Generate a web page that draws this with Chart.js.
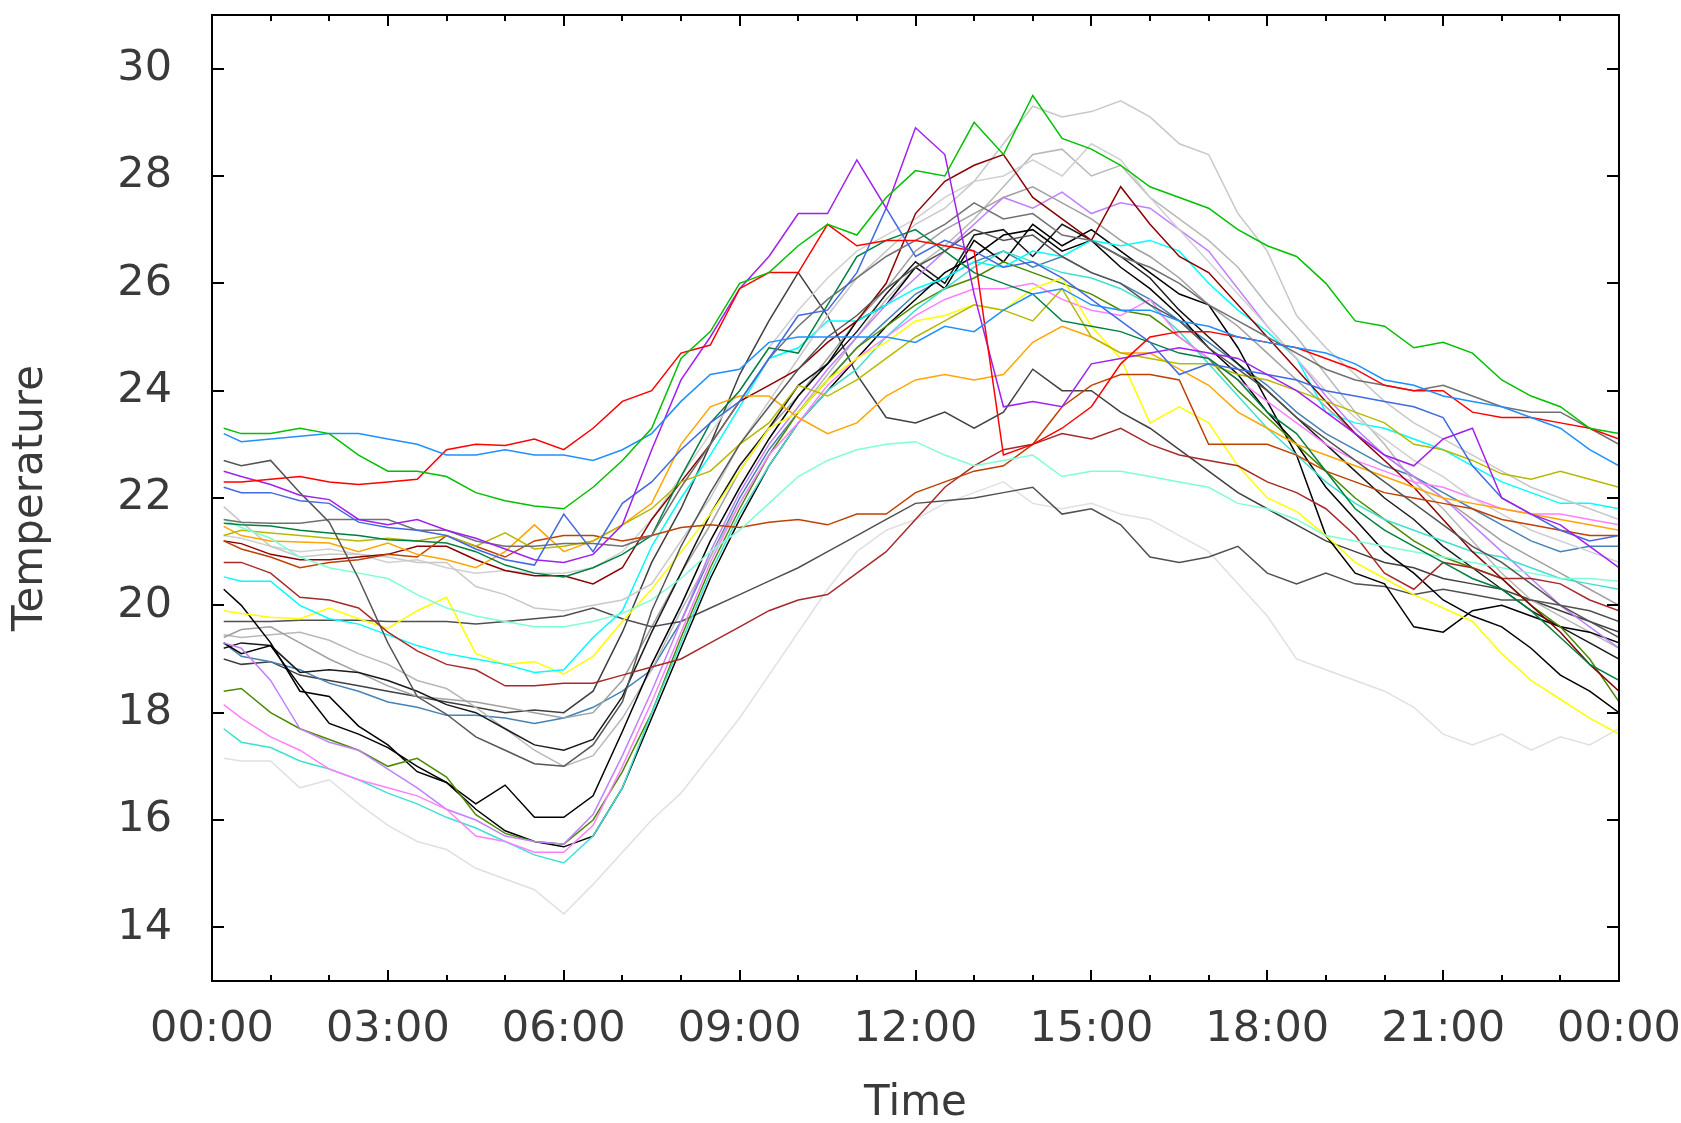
<!DOCTYPE html>
<html>
<head>
<meta charset="utf-8">
<title>Temperature</title>
<script src="https://cdn.jsdelivr.net/npm/chart.js@4.4.0/dist/chart.umd.min.js"></script>
<style>
  html, body { margin: 0; padding: 0; background: #fff; }
  #wrap { width: 1681px; height: 1123px; }
</style>
</head>
<body>
<div id="wrap"><canvas id="temp-chart" width="1681" height="1123"></canvas></div>
<script>
// sample times, hours since midnight
const times = [0.2, 0.5, 1, 1.5, 2, 2.5, 3, 3.5, 4, 4.5, 5, 5.5, 6,
  6.5, 7, 7.5, 8, 8.5, 9, 9.5, 10, 10.5, 11, 11.5, 12,
  12.5, 13, 13.5, 14, 14.5, 15, 15.5, 16, 16.5, 17, 17.5, 18,
  18.5, 19, 19.5, 20, 20.5, 21, 21.5, 22, 22.5, 23, 23.5, 24];

const xTickHours = [0, 3, 6, 9, 12, 15, 18, 21, 24];
const xTickLabels = ['00:00', '03:00', '06:00', '09:00', '12:00', '15:00', '18:00', '21:00', '00:00'];
const minorHours = [0, 1, 2, 3, 4, 5, 6, 7, 8, 9, 10, 11, 12, 13, 14, 15, 16, 17, 18, 19, 20, 21, 22, 23, 24];
const yTicks = [14, 16, 18, 20, 22, 24, 26, 28, 30];

// one row per sensor
const greenHigh = [23.3, 23.2, 23.2, 23.3, 23.2, 22.8, 22.5, 22.5, 22.4, 22.1, 21.95, 21.85, 21.8,
  22.2, 22.7, 23.3, 24.6, 25.1, 26.0, 26.2, 26.7, 27.1, 26.9, 27.6, 28.1,
  28.0, 29.0, 28.4, 29.5, 28.7, 28.5, 28.2, 27.8, 27.6, 27.4, 27.0, 26.7,
  26.5, 26.0, 25.3, 25.2, 24.8, 24.9, 24.7, 24.2, 23.9, 23.7, 23.3, 23.2];
const blueHigh = [23.2, 23.05, 23.1, 23.15, 23.2, 23.2, 23.1, 23.0, 22.8, 22.8, 22.9, 22.8, 22.8,
  22.7, 22.9, 23.2, 23.8, 24.3, 24.4, 24.9, 25.0, 25.0, 25.0, 25.0, 24.9,
  25.2, 25.1, 25.5, 25.8, 25.9, 25.6, 25.5, 25.5, 25.3, 25.2, 25.0, 24.9,
  24.8, 24.7, 24.5, 24.2, 24.1, 23.9, 23.8, 23.7, 23.5, 23.3, 22.9, 22.6];
const red = [22.3, 22.3, 22.35, 22.4, 22.3, 22.25, 22.3, 22.35, 22.9, 23.0, 22.98, 23.1, 22.9,
  23.3, 23.8, 24.0, 24.7, 24.85, 25.9, 26.2, 26.2, 27.1, 26.7, 26.8, 26.8,
  26.7, 26.6, 22.8, 23.0, 23.3, 23.7, 24.5, 25.0, 25.1, 25.1, 25.0, 24.9,
  24.8, 24.6, 24.4, 24.1, 24.0, 24.0, 23.6, 23.5, 23.5, 23.4, 23.3, 23.1];
const purple = [22.5, 22.4, 22.25, 22.05, 21.97, 21.6, 21.5, 21.6, 21.4, 21.25, 21.05, 20.85, 20.8,
  20.95, 21.5, 22.9, 24.2, 25.0, 25.9, 26.5, 27.3, 27.3, 28.3, 27.4, 28.9,
  28.4, 25.8, 23.7, 23.8, 23.7, 24.5, 24.6, 24.7, 24.8, 24.7, 24.6, 24.3,
  24.0, 23.6, 23.2, 22.8, 22.6, 23.1, 23.3, 22.0, 21.7, 21.5, 21.1, 20.7];
const royalBlue = [22.2, 22.1, 22.1, 21.95, 21.9, 21.55, 21.45, 21.4, 21.3, 21.05, 20.85, 20.75, 21.7,
  21.0, 21.9, 22.3, 22.9, 23.4, 23.8, 24.6, 25.4, 25.5, 26.2, 27.4, 26.5,
  26.8, 26.6, 26.3, 26.4, 26.1, 25.7, 25.3, 24.9, 24.3, 24.5, 24.4, 24.3,
  24.2, 24.0, 23.9, 23.8, 23.7, 23.5, 22.6, 22.0, 21.7, 21.4, 21.2, 21.3];
const grayFall = [22.7, 22.6, 22.7, 22.1, 21.55, 20.5, 19.3, 18.3, 17.97, 17.55, 17.3, 17.05, 17.0,
  17.4, 18.2, 19.9, 21.1, 22.1, 23.0, 23.7, 24.4, 25.0, 25.4, 25.9, 26.3,
  26.6, 27.0, 26.8, 26.9, 26.5, 26.2, 26.0, 25.6, 25.3, 24.8, 24.4, 24.0,
  23.5, 23.1, 22.7, 22.3, 21.9, 21.5, 21.1, 20.8, 20.4, 20.0, 19.7, 19.4];
const grayFlat = [21.6, 21.55, 21.53, 21.53, 21.6, 21.6, 21.6, 21.4, 21.4, 21.2, 21.1, 21.1, 21.15,
  21.15, 21.1, 21.3, 22.2, 23.0, 23.8, 24.6, 25.2, 25.7, 26.1, 26.5, 26.8,
  27.1, 27.5, 27.2, 27.3, 26.9, 26.8, 26.5, 26.3, 26.0, 25.6, 25.3, 25.0,
  24.7, 24.4, 24.2, 24.1, 24.0, 24.1, 23.9, 23.7, 23.6, 23.6, 23.3, 23.0];
const darkGreen = [21.53, 21.5, 21.48, 21.4, 21.35, 21.3, 21.22, 21.2, 21.16, 21.0, 20.75, 20.6, 20.53,
  20.7, 20.95, 21.3, 22.4, 23.4, 24.0, 24.8, 24.7, 25.6, 26.5, 26.8, 27.0,
  26.6, 26.2, 26.0, 25.8, 25.3, 25.2, 25.1, 24.9, 24.7, 24.6, 24.2, 23.6,
  23.2, 22.5, 21.8, 21.4, 21.1, 20.8, 20.5, 20.3, 19.9, 19.4, 18.9, 18.6];
const aquamarine = [21.6, 21.45, 21.25, 20.9, 20.7, 20.6, 20.5, 20.2, 19.95, 19.8, 19.7, 19.6, 19.6,
  19.7, 19.85, 20.1, 20.5, 21.0, 21.4, 21.9, 22.4, 22.7, 22.9, 23.0, 23.05,
  22.8, 22.6, 22.7, 22.8, 22.4, 22.5, 22.5, 22.4, 22.3, 22.2, 21.9, 21.8,
  21.6, 21.3, 21.2, 21.1, 21.0, 20.9, 20.8, 20.7, 20.6, 20.5, 20.5, 20.45];
const olive = [21.3, 21.4, 21.35, 21.3, 21.25, 21.2, 21.25, 21.2, 21.3, 21.1, 21.35, 21.05, 21.1,
  21.2, 21.5, 21.8, 22.3, 22.5, 23.0, 23.4, 24.1, 23.9, 24.2, 24.6, 25.0,
  25.3, 25.6, 25.5, 25.3, 25.9, 25.0, 24.7, 24.6, 24.5, 24.5, 24.3, 24.2,
  24.0, 23.8, 23.6, 23.4, 23.0, 22.9, 22.7, 22.45, 22.35, 22.5, 22.35, 22.2];
const orange = [21.47, 21.3, 21.2, 21.18, 21.16, 21.0, 21.16, 20.95, 20.85, 20.7, 21.0, 21.5, 21.0,
  21.2, 21.5, 21.9, 23.0, 23.7, 23.9, 23.9, 23.5, 23.2, 23.4, 23.9, 24.2,
  24.3, 24.2, 24.3, 24.9, 25.2, 25.0, 24.7, 24.7, 24.4, 24.1, 23.6, 23.3,
  23.0, 22.8, 22.6, 22.4, 22.2, 22.0, 21.9, 21.8, 21.7, 21.6, 21.5, 21.4];
const sienna = [21.2, 21.05, 20.9, 20.7, 20.8, 20.85, 20.95, 20.9, 21.3, 21.1, 20.9, 21.2, 21.3,
  21.3, 21.2, 21.3, 21.45, 21.5, 21.45, 21.55, 21.6, 21.5, 21.7, 21.7, 22.1,
  22.3, 22.5, 22.6, 23.0, 23.7, 24.1, 24.3, 24.3, 24.2, 23.0, 23.0, 23.0,
  22.8, 22.5, 22.3, 22.1, 22.0, 21.9, 21.8, 21.6, 21.5, 21.4, 21.3, 21.3];
const darkRed = [21.2, 21.15, 20.95, 20.85, 20.85, 20.9, 20.95, 21.1, 21.1, 20.85, 20.65, 20.55, 20.55,
  20.4, 20.7, 21.6, 22.3, 23.0, 23.8, 24.1, 24.4, 24.9, 25.3, 26.0, 27.3,
  27.9, 28.2, 28.4, 27.6, 27.2, 26.8, 27.8, 27.1, 26.5, 26.2, 25.6, 25.0,
  24.4, 23.8, 23.2, 22.7, 22.2, 21.6, 21.0, 20.5, 20.0, 19.5, 18.9, 18.4];
const brown = [20.8, 20.8, 20.6, 20.15, 20.1, 19.95, 19.5, 19.15, 18.9, 18.8, 18.5, 18.5, 18.55,
  18.55, 18.7, 18.85, 19.0, 19.3, 19.6, 19.9, 20.1, 20.2, 20.6, 21.0, 21.6,
  22.2, 22.6, 22.9, 23.0, 23.2, 23.1, 23.3, 23.0, 22.8, 22.7, 22.6, 22.3,
  22.1, 21.8, 21.3, 20.6, 20.3, 20.8, 20.7, 20.5, 20.5, 20.4, 20.1, 19.9];
const silverTop = [21.84, 21.55, 21.1, 20.9, 20.95, 20.95, 20.9, 20.8, 20.8, 20.35, 20.2, 19.95, 19.9,
  20.0, 20.1, 20.4, 21.2, 22.0, 23.0, 23.8, 24.6, 25.4, 26.1, 26.6, 27.1,
  27.4, 27.9, 28.6, 29.3, 29.1, 29.2, 29.4, 29.1, 28.6, 28.4, 27.3, 26.6,
  25.4, 24.8, 24.3, 23.8, 23.4, 23.1, 22.8, 22.5, 22.2, 22.0, 21.8, 21.6];
const silverHigh = [21.3, 21.25, 21.1, 21.0, 21.05, 20.95, 20.8, 20.85, 20.7, 20.6, 20.65, 20.6, 20.6,
  20.7, 21.0, 21.6, 22.4, 23.2, 24.0, 24.8, 25.5, 26.1, 26.6, 26.9, 27.2,
  27.6, 27.9, 28.0, 28.3, 28.0, 28.6, 28.3, 27.6, 27.0, 26.4, 25.8, 25.2,
  24.6, 24.0, 23.5, 23.1, 22.7, 22.4, 22.0, 21.7, 21.4, 21.2, 21.0, 20.8];
const cyan = [20.53, 20.45, 20.45, 20.0, 19.75, 19.65, 19.45, 19.25, 19.1, 19.0, 18.9, 18.75, 18.8,
  19.4, 19.9, 21.1, 22.0, 22.8, 23.7, 24.6, 24.8, 25.3, 25.3, 25.6, 25.9,
  26.1, 26.4, 26.3, 26.6, 26.5, 26.8, 26.7, 26.8, 26.6, 26.0, 25.5, 25.1,
  24.6, 23.6, 23.4, 23.3, 23.1, 22.9, 22.6, 22.3, 22.1, 21.9, 21.9, 21.8];
const yellow = [19.9, 19.85, 19.78, 19.75, 19.95, 19.75, 19.57, 19.9, 20.15, 19.1, 18.9, 18.95, 18.72,
  19.05, 19.7, 20.3, 21.0, 21.7, 22.5, 23.3, 23.6, 24.2, 24.6, 24.9, 25.3,
  25.4, 25.6, 25.5, 25.9, 26.1, 25.2, 24.6, 23.4, 23.7, 23.4, 22.6, 22.0,
  21.75, 21.3, 20.8, 20.5, 20.2, 19.95, 19.7, 19.1, 18.6, 18.25, 17.9, 17.6];
const violet = [18.15, 17.9, 17.55, 17.3, 16.95, 16.75, 16.6, 16.45, 16.2, 15.7, 15.6, 15.4, 15.4,
  15.9, 17.0, 18.2, 19.5, 20.8, 21.9, 22.8, 23.4, 24.1, 24.6, 25.0, 25.4,
  25.7, 25.9, 25.9, 26.0, 25.7, 25.5, 25.4, 25.7, 25.0, 24.6, 24.2, 23.8,
  23.4, 23.0, 22.7, 22.5, 22.3, 22.2, 22.0, 21.8, 21.7, 21.7, 21.6, 21.5];
const turquoise = [17.7, 17.45, 17.35, 17.1, 16.95, 16.75, 16.5, 16.3, 16.05, 15.85, 15.6, 15.35, 15.2,
  15.7, 16.6, 18.0, 19.3, 20.6, 21.7, 22.6, 23.4, 24.0, 24.4, 25.0, 25.5,
  25.9, 26.3, 26.6, 26.4, 26.2, 26.1, 25.9, 25.6, 25.1, 24.5, 23.9, 23.3,
  22.8, 22.3, 21.9, 21.6, 21.4, 21.2, 21.0, 20.9, 20.7, 20.5, 20.4, 20.3];
const lavender = [19.3, 19.2, 18.6, 17.7, 17.45, 17.3, 16.95, 16.6, 16.2, 16.0, 15.7, 15.6, 15.55,
  16.1, 17.2, 18.4, 19.7, 21.0, 22.1, 23.0, 23.7, 24.4, 25.0, 25.6, 26.1,
  26.6, 27.1, 27.6, 27.4, 27.7, 27.3, 27.5, 27.4, 27.0, 26.6, 25.9, 25.2,
  24.6, 23.9, 23.3, 22.8, 22.4, 22.0, 21.5, 21.0, 20.5, 20.0, 19.6, 19.2];
const oliveDrab = [18.4, 18.45, 18.0, 17.7, 17.5, 17.3, 17.0, 17.15, 16.8, 16.1, 15.75, 15.6, 15.55,
  16.0, 16.9, 18.0, 19.4, 20.7, 21.8, 22.8, 23.6, 24.2, 24.8, 25.2, 25.6,
  25.9, 26.1, 26.4, 26.2, 26.0, 25.8, 25.5, 25.4, 25.0, 24.6, 24.0, 23.5,
  23.0, 22.5, 22.0, 21.6, 21.2, 20.9, 20.7, 20.5, 20.0, 19.6, 19.0, 18.2];
const blackA = [20.3, 20.0, 19.3, 18.4, 18.3, 17.75, 17.4, 16.9, 16.7, 16.3, 16.65, 16.05, 16.05,
  16.45, 17.65, 18.9, 20.0, 21.2, 22.2, 23.1, 23.9, 24.5, 25.3, 25.6, 26.3,
  25.9, 26.8, 26.4, 27.1, 26.7, 27.0, 26.6, 26.2, 25.8, 25.6, 24.8, 23.8,
  22.8, 21.3, 20.6, 20.4, 19.6, 19.5, 19.9, 20.0, 19.8, 19.6, 19.5, 19.3];
const blackB = [19.3, 19.1, 19.25, 18.5, 17.8, 17.6, 17.35, 17.0, 16.7, 16.2, 15.8, 15.6, 15.5,
  15.7, 16.6, 17.9, 19.2, 20.5, 21.6, 22.6, 23.4, 24.0, 24.6, 25.2, 25.7,
  26.2, 26.5, 26.9, 27.0, 26.6, 26.8, 26.3, 25.9, 25.4, 24.8, 24.3, 23.6,
  23.0, 22.2, 21.6, 21.0, 20.6, 20.1, 19.8, 19.6, 19.2, 18.7, 18.4, 18.0];
const blackC = [19.2, 19.3, 19.25, 18.75, 18.8, 18.75, 18.6, 18.4, 18.15, 18.0, 17.7, 17.4, 17.3,
  17.5, 18.3, 19.5, 20.6, 21.7, 22.6, 23.3, 24.1, 24.5, 25.1, 25.8, 26.4,
  26.0, 26.9, 27.0, 26.5, 27.1, 26.8, 26.5, 26.1, 25.5, 25.0, 24.5, 24.0,
  23.5, 23.0, 22.5, 22.0, 21.6, 21.1, 20.7, 20.3, 19.9, 19.6, 19.3, 19.0];
const grayLow = [19.7, 19.7, 19.7, 19.72, 19.72, 19.72, 19.7, 19.7, 19.7, 19.65, 19.7, 19.75, 19.8,
  19.95, 19.75, 19.6, 19.7, 19.95, 20.2, 20.45, 20.7, 21.0, 21.3, 21.6, 21.9,
  21.95, 22.0, 22.1, 22.2, 21.7, 21.8, 21.5, 20.9, 20.8, 20.9, 21.1, 20.6,
  20.4, 20.6, 20.4, 20.35, 20.2, 20.3, 20.2, 20.1, 20.1, 20.0, 19.9, 19.7];
const grayMid = [19.4, 19.55, 19.6, 19.3, 19.0, 18.75, 18.5, 18.3, 18.25, 18.2, 18.1, 18.0, 17.9,
  18.0, 18.6, 19.6, 20.6, 21.5, 22.5, 23.3, 23.9, 24.6, 25.3, 25.9, 26.6,
  27.0, 27.3, 27.6, 27.8, 27.5, 27.2, 26.8, 26.5, 26.1, 25.6, 25.2, 24.7,
  24.2, 23.7, 23.2, 22.8, 22.4, 22.0, 21.6, 21.2, 20.9, 20.6, 20.3, 20.0];
const silverMid = [19.45, 19.4, 19.45, 19.5, 19.35, 19.1, 18.9, 18.6, 18.45, 18.1, 17.7, 17.3, 17.0,
  17.2, 17.9, 18.8, 19.9, 20.9, 21.9, 22.8, 23.6, 24.3, 25.0, 25.7, 26.3,
  26.7, 27.2, 27.8, 28.4, 28.5, 28.0, 28.2, 27.6, 27.2, 26.8, 26.3, 25.6,
  25.0, 24.3, 23.6, 23.0, 22.3, 21.8, 21.2, 20.6, 20.1, 19.8, 19.5, 19.2];
const steelBlue = [19.3, 19.05, 18.95, 18.8, 18.55, 18.4, 18.2, 18.1, 17.95, 17.95, 17.9, 17.8, 17.9,
  18.1, 18.4, 18.8, 19.7, 20.9, 22.0, 22.9, 23.6, 24.2, 24.8, 25.3, 25.8,
  26.1, 26.4, 26.6, 26.3, 26.5, 26.2, 26.0, 25.7, 25.3, 24.9, 24.5, 24.1,
  23.6, 23.2, 22.9, 22.6, 22.4, 22.1, 21.8, 21.5, 21.2, 21.0, 21.1, 21.1];
const paleGray = [17.15, 17.1, 17.1, 16.6, 16.75, 16.3, 15.9, 15.6, 15.45, 15.1, 14.9, 14.7, 14.25,
  14.8, 15.4, 16.0, 16.5, 17.2, 17.9, 18.7, 19.5, 20.3, 21.0, 21.4, 21.6,
  21.9, 22.1, 22.3, 21.9, 21.8, 21.9, 21.7, 21.6, 21.3, 21.0, 20.4, 19.8,
  19.0, 18.8, 18.6, 18.4, 18.1, 17.6, 17.4, 17.6, 17.3, 17.55, 17.4, 17.7];
const grayPeak = [19.0, 18.9, 18.95, 18.7, 18.6, 18.5, 18.4, 18.3, 18.2, 18.1, 18.0, 18.05, 18.0,
  18.4, 19.5, 20.8, 21.8, 23.0, 24.3, 25.3, 26.2, 25.4, 24.3, 23.5, 23.4,
  23.6, 23.3, 23.6, 24.4, 24.0, 24.0, 23.6, 23.3, 22.9, 22.5, 22.1, 21.8,
  21.5, 21.2, 21.0, 20.8, 20.7, 20.5, 20.4, 20.3, 20.1, 19.9, 19.7, 19.5];

const sensors = [
  { values: greenHigh, color: '#00c000' },
  { values: blueHigh, color: '#1e90ff' },
  { values: red, color: '#ff0000' },
  { values: purple, color: '#a020f0' },
  { values: royalBlue, color: '#4169e1' },
  { values: grayFall, color: '#555555' },
  { values: grayFlat, color: '#707070' },
  { values: darkGreen, color: '#008040' },
  { values: aquamarine, color: '#7fffd4' },
  { values: olive, color: '#b8b800' },
  { values: orange, color: '#ffa500' },
  { values: sienna, color: '#c04000' },
  { values: darkRed, color: '#8b0000' },
  { values: brown, color: '#a52a2a' },
  { values: silverTop, color: '#c8c8c8' },
  { values: silverHigh, color: '#d0d0d0' },
  { values: cyan, color: '#00ffff' },
  { values: yellow, color: '#ffff00' },
  { values: violet, color: '#ff80ff' },
  { values: turquoise, color: '#40e0d0' },
  { values: lavender, color: '#c080ff' },
  { values: oliveDrab, color: '#4a8a00' },
  { values: blackA, color: '#000000' },
  { values: blackB, color: '#000000' },
  { values: blackC, color: '#1a1a1a' },
  { values: grayLow, color: '#505050' },
  { values: grayMid, color: '#a0a0a0' },
  { values: silverMid, color: '#b8b8b8' },
  { values: steelBlue, color: '#4682b4' },
  { values: paleGray, color: '#e0e0e0' },
  { values: grayPeak, color: '#404040' }
];

// frame with inward ticks on all four sides
const frameTicks = {
  id: 'frameTicks',
  afterDatasetsDraw(chart) {
    const { ctx, chartArea: a, scales: { x, y } } = chart;
    ctx.save();
    ctx.strokeStyle = '#000';
    ctx.lineWidth = 2;
    ctx.beginPath();
    minorHours.forEach(h => {
      const px = Math.round(x.getPixelForValue(h));
      const len = h % 3 === 0 ? 11 : 6;
      ctx.moveTo(px, a.bottom); ctx.lineTo(px, a.bottom - len);
      ctx.moveTo(px, a.top); ctx.lineTo(px, a.top + len);
    });
    yTicks.forEach(v => {
      const py = Math.round(y.getPixelForValue(v));
      ctx.moveTo(a.left, py); ctx.lineTo(a.left + 12, py);
      ctx.moveTo(a.right, py); ctx.lineTo(a.right - 12, py);
    });
    ctx.stroke();
    ctx.strokeRect(a.left, a.top, a.right - a.left, a.bottom - a.top);
    ctx.restore();
  }
};

const textColor = '#3a3a3a';
const tickFont = { family: 'DejaVu Sans', size: 43 };
const titleFont = { family: 'DejaVu Sans', size: 42, lineHeight: 0.9 };

new Chart(document.getElementById('temp-chart'), {
  type: 'line',
  data: {
    datasets: sensors.map(s => ({
      data: s.values.map((v, i) => ({ x: times[i], y: v })),
      borderColor: s.color,
      borderWidth: 1.5,
      pointRadius: 0,
      tension: 0,
      fill: false
    }))
  },
  options: {
    responsive: false,
    devicePixelRatio: 1,
    animation: false,
    events: [],
    layout: { padding: { left: 0, right: 62, top: 15, bottom: 0 } },
    plugins: { legend: { display: false }, tooltip: { enabled: false } },
    scales: {
      x: {
        type: 'linear',
        min: 0,
        max: 24,
        grid: { display: false, drawTicks: false },
        border: { display: false },
        afterBuildTicks: scale => { scale.ticks = xTickHours.map(v => ({ value: v })); },
        afterFit: scale => { scale.height = 142; scale.paddingLeft = 0; scale.paddingRight = 0; },
        ticks: {
          autoSkip: false,
          maxRotation: 0,
          padding: 23,
          color: textColor,
          font: tickFont,
          callback: v => xTickLabels[xTickHours.indexOf(v)]
        },
        title: { display: true, text: 'Time', color: textColor, font: titleFont, padding: { top: 0, bottom: 0 } }
      },
      y: {
        type: 'linear',
        min: 13,
        max: 31,
        grid: { display: false, drawTicks: false },
        border: { display: false },
        afterBuildTicks: scale => { scale.ticks = yTicks.map(v => ({ value: v })); },
        afterFit: scale => { scale.width = 212; scale.paddingTop = 0; scale.paddingBottom = 0; },
        ticks: { padding: 40, color: textColor, font: tickFont },
        title: { display: true, text: 'Temperature', color: textColor, font: titleFont, padding: { top: 12, bottom: 0 } }
      }
    }
  },
  plugins: [frameTicks]
});
</script>
</body>
</html>
